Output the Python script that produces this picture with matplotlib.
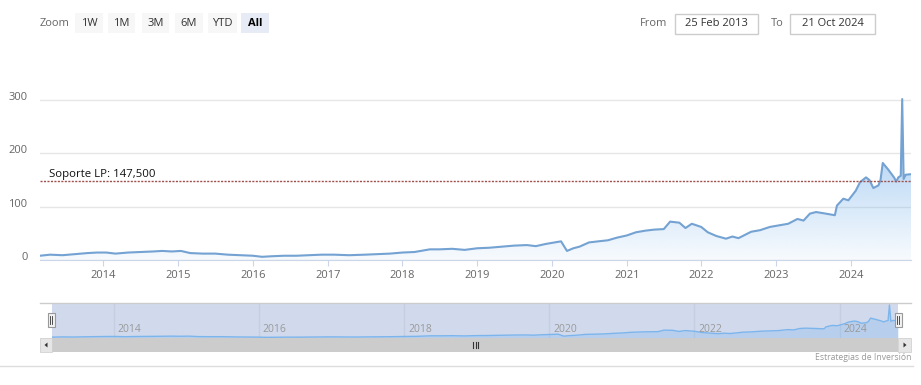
import numpy as np
import matplotlib
matplotlib.use("Agg")
import matplotlib.pyplot as plt
import matplotlib.dates as mdates
import matplotlib.transforms as mtransforms
from matplotlib.patches import Rectangle, Polygon

plt.rcParams['font.family'] = ['Open Sans', 'DejaVu Sans']

# price series
dates = np.array([
    '2013-02-25', '2013-04-15', '2013-06-15', '2013-08-15', '2013-10-15', '2013-12-01',
    '2014-01-15', '2014-03-01', '2014-05-01', '2014-07-01', '2014-09-01', '2014-10-15',
    '2014-12-01', '2015-01-15', '2015-03-01', '2015-05-01', '2015-07-01', '2015-09-01',
    '2015-11-01', '2016-01-01', '2016-02-15', '2016-04-01', '2016-06-01', '2016-08-01',
    '2016-10-01', '2016-12-01', '2017-02-01', '2017-04-15', '2017-07-01', '2017-09-01',
    '2017-11-01', '2018-01-01', '2018-03-01', '2018-05-15', '2018-07-01', '2018-09-01',
    '2018-11-01', '2019-01-01', '2019-03-01', '2019-05-01', '2019-07-01', '2019-09-01',
    '2019-10-15', '2019-12-01', '2020-01-15', '2020-02-15', '2020-03-15', '2020-04-15',
    '2020-05-15', '2020-07-01', '2020-08-15', '2020-10-01', '2020-11-15', '2021-01-01',
    '2021-02-15', '2021-04-01', '2021-05-15', '2021-07-01', '2021-08-01', '2021-09-15',
    '2021-10-15', '2021-11-15', '2021-12-31', '2022-02-01', '2022-03-15', '2022-05-01',
    '2022-06-01', '2022-07-01', '2022-08-01', '2022-09-01', '2022-10-15', '2022-12-01',
    '2023-01-15', '2023-03-01', '2023-04-15', '2023-05-15', '2023-06-15', '2023-07-15',
    '2023-09-01', '2023-10-15', '2023-10-25', '2023-11-25', '2023-12-20', '2024-01-25',
    '2024-02-15', '2024-03-15', '2024-04-01', '2024-04-20', '2024-05-15', '2024-05-25',
    '2024-06-05', '2024-07-01', '2024-07-30', '2024-08-10', '2024-08-20', '2024-09-01',
    '2024-09-08', '2024-09-15', '2024-09-25', '2024-10-21'], dtype='datetime64[D]')
prices = np.array([
    8, 10, 9, 11, 13, 14,
    14, 12, 14, 15, 16, 17,
    16, 17, 13, 12, 12, 10,
    9, 8, 6, 7, 8, 8,
    9, 10, 10, 9, 10, 11,
    12, 14, 15, 20, 20, 21,
    19, 22, 23, 25, 27, 28,
    26, 30, 33, 35, 17, 22,
    25, 33, 35, 37, 42, 46,
    52, 55, 57, 58, 72, 70,
    60, 68, 62, 52, 45, 40,
    44, 41, 47, 53, 56, 62,
    65, 68, 77, 74, 87, 90,
    87, 84, 102, 115, 112, 130,
    146, 155, 150, 135, 140, 150,
    182, 170, 155, 147, 155, 158,
    302, 152, 160, 161])

support = 147.5
support_label = "Soporte LP: 147,500"
y_ticks = [0, 100, 200, 300]
nav_years = [2014, 2016, 2018, 2020, 2022, 2024]
buttons = ['1W', '1M', '3M', '6M', 'YTD', 'All']
date_from = '25 Feb 2013'
date_to = '21 Oct 2024'
credits = 'Estrategias de Inversión'

W, H = 921, 385
fig = plt.figure(figsize=(W / 100, H / 100), dpi=100)


def px_axes(x0, y0, x1, y1, **kw):
    return fig.add_axes([x0 / W, 1 - y1 / H, (x1 - x0) / W, (y1 - y0) / H], **kw)


x = mdates.date2num(dates)
xmin, xmax = x[0], x[-1]
ymax = 320

# ---- main chart
ax = px_axes(40, 260 - ymax * 0.533, 911, 260)
ax.set_xlim(xmin, xmax)
ax.set_ylim(0, ymax)
for s in ['top', 'left', 'right']:
    ax.spines[s].set_visible(False)
ax.spines['bottom'].set_color('#ccd6eb')

poly = ax.fill_between(x, prices, 0, facecolor='none', edgecolor='none')
t = np.linspace(0, 1, 256).reshape(-1, 1)
grad = np.zeros((256, 1, 4))
grad[..., 0] = 124 / 255
grad[..., 1] = 181 / 255
grad[..., 2] = 236 / 255
grad[..., 3] = 0.06 + 0.72 * t
im = ax.imshow(grad, extent=[xmin, xmax, 0, prices.max()], origin='lower',
               aspect='auto', zorder=1)
im.set_clip_path(poly.get_paths()[0], transform=ax.transData)
ax.plot(x, prices, color='#74a2d2', lw=1.5, zorder=3)

ax.axhline(support, color='#a0504c', lw=1, ls=(0, (1.5, 1)), zorder=4)
ax.annotate(support_label, xy=(0, support), xycoords=('axes fraction', 'data'),
            xytext=(9, 1), textcoords='offset pixels', fontsize=8.2, color='#111111',
            va='bottom', ha='left', zorder=5)

ax.set_yticks(y_ticks)
ax.yaxis.grid(True, color='#e6e6e6', lw=1)
ax.set_axisbelow(True)
ax.tick_params(axis='y', length=0, labelsize=8, labelcolor='#666666', pad=9)
shift = mtransforms.ScaledTranslation(0, 4 / 100, fig.dpi_scale_trans)
for lab in ax.get_yticklabels():
    lab.set_transform(lab.get_transform() + shift)

ax.xaxis.set_major_locator(mdates.YearLocator())
ax.xaxis.set_major_formatter(mdates.DateFormatter('%Y'))
ax.tick_params(axis='x', length=4, color='#ccd6eb', labelsize=8,
               labelcolor='#666666', pad=3)

# ---- navigator
nav = px_axes(52, 303, 898, 338)
nav.set_facecolor('#d1daed')
nav.set_xlim(xmin, xmax)
nav.set_ylim(0, ymax)
for s in nav.spines.values():
    s.set_visible(False)
nav.set_xticks([])
nav.set_yticks([])
for yr in nav_years:
    xv = mdates.date2num(np.datetime64(f'{yr}-01-01'))
    nav.axvline(xv, color='#c6cedf', lw=1, zorder=0)
    nav.annotate(str(yr), xy=(xv, 0), xycoords=('data', 'axes fraction'),
                 xytext=(4, 3), textcoords='offset pixels', fontsize=7.5,
                 color='#999999', ha='left', va='bottom')
nav.fill_between(x, prices, 0, color='#7cb5ec', alpha=0.3, lw=0)
nav.plot(x, prices, color='#7cb5ec', lw=1)

# ---- overlay in pixel coordinates (range selector, scrollbar, handles)
ov = fig.add_axes([0, 0, 1, 1], zorder=10)
ov.set_xlim(0, W)
ov.set_ylim(H, 0)
ov.axis('off')
ov.patch.set_alpha(0)

ov.text(55, 23.5, 'Zoom', fontsize=8, color='#666666', ha='center', va='center')
btn_x = [75, 108, 142, 175, 208, 241]
btn_w = [28, 27, 27, 28, 29, 28]
for name, bx, bw in zip(buttons, btn_x, btn_w):
    sel = name == 'All'
    ov.add_patch(Rectangle((bx, 13), bw, 20, facecolor='#e6ebf5' if sel else '#f7f7f7',
                           edgecolor='none'))
    ov.text(bx + bw / 2, 23.5, name, fontsize=8, ha='center', va='center',
            color='#000000' if sel else '#333333', fontweight='bold' if sel else 'normal')

ov.text(654, 23, 'From', fontsize=8, color='#666666', ha='center', va='center')
ov.add_patch(Rectangle((675, 14), 83, 20, facecolor='white', edgecolor='#cccccc', lw=1))
ov.text(716.5, 23.5, date_from, fontsize=8, color='#333333', ha='center', va='center')
ov.text(777, 23, 'To', fontsize=8, color='#666666', ha='center', va='center')
ov.add_patch(Rectangle((790, 14), 85, 20, facecolor='white', edgecolor='#cccccc', lw=1))
ov.text(832.5, 23.5, date_to, fontsize=8, color='#333333', ha='center', va='center')

# navigator outline
ov.plot([40, 911], [303, 303], color='#cccccc', lw=1)

# scrollbar
ov.add_patch(Rectangle((40, 338), 871, 14, facecolor='#f2f2f2', edgecolor='none'))
ov.add_patch(Rectangle((52, 338), 846, 14, facecolor='#cccccc', edgecolor='none'))
ov.add_patch(Rectangle((40, 338), 12, 14, facecolor='#e6e6e6', edgecolor='#cccccc', lw=0.5))
ov.add_patch(Rectangle((898, 338), 13, 14, facecolor='#e6e6e6', edgecolor='#cccccc', lw=0.5))
ov.add_patch(Polygon([[44.5, 345], [47.5, 342.5], [47.5, 347.5]], closed=True,
                     facecolor='#333333', edgecolor='none'))
ov.add_patch(Polygon([[906.5, 345], [903.5, 342.5], [903.5, 347.5]], closed=True,
                     facecolor='#333333', edgecolor='none'))
for gx in [473, 475.5, 478]:
    ov.plot([gx, gx], [342, 348], color='#333333', lw=0.8)

# navigator handles
for hx in [51, 898]:
    ov.add_patch(Rectangle((hx - 3.5, 313), 7, 14, facecolor='#f2f2f2',
                           edgecolor='#999999', lw=0.8))
    for dx in [-1, 1]:
        ov.plot([hx + dx, hx + dx], [316, 324], color='#333333', lw=0.6)

ov.text(911, 358, credits, fontsize=6.2, color='#999999', ha='right', va='center')
ov.plot([0, 913], [366, 366], color='#dddddd', lw=1)

fig.savefig('out.png', dpi=100)
